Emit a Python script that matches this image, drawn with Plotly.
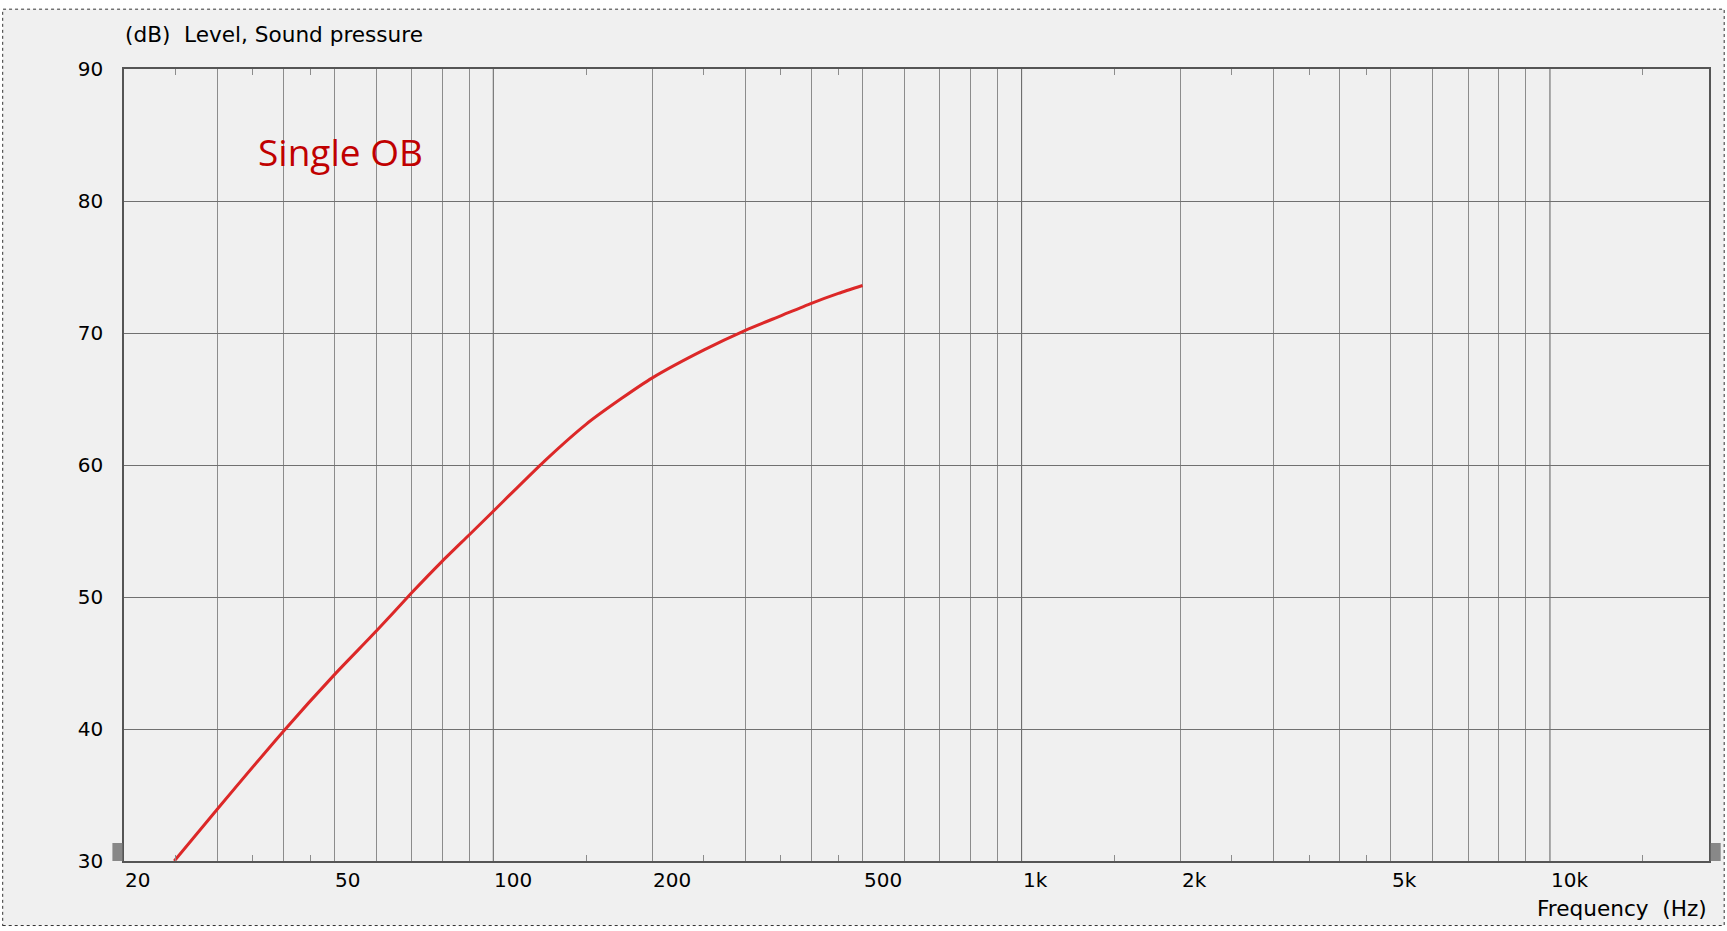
import math
import plotly.graph_objects as go

# ---- data ----
freq_hz = [24.9, 30, 40, 50, 60, 70, 80, 90, 100, 125, 150, 175, 200, 250, 300, 350, 400, 450, 500]
level_db = [30.0, 33.9, 39.8, 44.1, 47.4, 50.3, 52.7, 54.7, 56.5, 60.3, 63.1, 65.05, 66.6, 68.7, 70.2, 71.3, 72.25, 73.0, 73.6]

x_grid = [30, 40, 50, 60, 70, 80, 90,
          200, 300, 400, 500, 600, 700, 800, 900,
          2000, 3000, 4000, 5000, 6000, 7000, 8000, 9000]
x_decades = [100, 1000, 10000]
x_minor_ticks = [25, 35, 45, 150, 250, 350, 450, 1500, 2500, 3500, 4500, 15000]
x_tick_values = [20, 50, 100, 200, 500, 1000, 2000, 5000, 10000]
x_tick_labels = ["20", "50", "100", "200", "500", "1k", "2k", "5k", "10k"]
y_tick_values = [30, 40, 50, 60, 70, 80, 90]
x_range_hz = [20, 20000]
y_range_db = [30, 90]

FONT = "DejaVu Sans"
W, H = 1727, 931
L, R, T, B = 124.3, 17.7, 69.3, 70
PW = W - L - R
PH = H - T - B


def px_to_paper_x(px):
    return (px - L) / PW


def px_to_paper_y(py):
    return (H - B - py) / PH


fig = go.Figure()
fig.add_trace(go.Scatter(
    x=freq_hz, y=level_db, mode="lines",
    line=dict(color="#DC2828", width=3, shape="spline", smoothing=0.6),
    hoverinfo="skip", showlegend=False,
))

shapes = []
# outer panel with dotted border
shapes.append(dict(type="rect", xref="paper", yref="paper",
                   x0=px_to_paper_x(3), x1=px_to_paper_x(1724.5),
                   y0=px_to_paper_y(925.5), y1=px_to_paper_y(9.5),
                   fillcolor="#F0F0F0", line=dict(color="#333333", width=1, dash="dot"),
                   layer="below"))
# darker decade lines
for d in x_decades:
    shapes.append(dict(type="line", xref="x", yref="paper", x0=d, x1=d, y0=0, y1=1,
                       line=dict(color="#5E5E5E", width=1), layer="between"))
# small gray handles
for x0, x1 in [(112.7, 122.7), (1711, 1721)]:
    shapes.append(dict(type="rect", xref="paper", yref="paper",
                       x0=px_to_paper_x(x0), x1=px_to_paper_x(x1),
                       y0=px_to_paper_y(861), y1=px_to_paper_y(843),
                       fillcolor="#888888", line=dict(width=0), layer="above"))

annotations = []
for v, t in zip(x_tick_values, x_tick_labels):
    annotations.append(dict(x=math.log10(v), xref="x", y=0, yref="paper",
                            text=t, showarrow=False, xanchor="left", yanchor="middle",
                            yshift=-19, xshift=-1, font=dict(family=FONT, size=20, color="#000000")))
annotations.append(dict(x=1, xref="paper", y=0, yref="paper", text="Frequency\u00a0 (Hz)",
                        showarrow=False, xanchor="right", yanchor="middle", yshift=-47,
                        font=dict(family=FONT, size=21.6, color="#000000")))
annotations.append(dict(x=0, xref="paper", y=1, yref="paper", text="(dB)\u00a0 Level, Sound pressure",
                        showarrow=False, xanchor="left", yanchor="middle", yshift=35, xshift=-1,
                        font=dict(family=FONT, size=21.6, color="#000000")))
annotations.append(dict(x=px_to_paper_x(256), xref="paper", y=px_to_paper_y(152), yref="paper",
                        text="Single OB", showarrow=False, xanchor="left", yanchor="middle",
                        font=dict(family="Open Sans", size=37, color="#C00000")))

fig.update_layout(
    width=W, height=H,
    margin=dict(l=L, r=R, t=T, b=B, pad=0),
    paper_bgcolor="#FFFFFF", plot_bgcolor="#F0F0F0",
    showlegend=False,
    shapes=shapes, annotations=annotations,
    hovermode=False,
)
fig.update_xaxes(
    type="log", range=[math.log10(x_range_hz[0]), math.log10(x_range_hz[1])],
    tickmode="array", tickvals=x_grid, showticklabels=False, ticks="",
    showgrid=True, gridcolor="#8C8C8C", gridwidth=1,
    showline=True, linecolor="#555555", linewidth=1.5, mirror="ticks",
    zeroline=False,
    minor=dict(tickmode="array", tickvals=x_minor_ticks, ticks="inside", ticklen=6,
               tickcolor="#8C8C8C", tickwidth=1, showgrid=False),
)
fig.update_yaxes(
    range=y_range_db, tickmode="array", tickvals=y_tick_values,
    ticks="outside", ticklen=15, tickcolor="rgba(0,0,0,0)",
    tickfont=dict(family=FONT, size=20, color="#000000"),
    showgrid=True, gridcolor="#707070", gridwidth=1,
    showline=True, linecolor="#555555", linewidth=1.5, mirror=True,
    zeroline=False,
)

fig.write_html("out.html", config={"displayModeBar": False},
               post_script="document.body.style.margin='0px';document.body.style.overflow='hidden';")
